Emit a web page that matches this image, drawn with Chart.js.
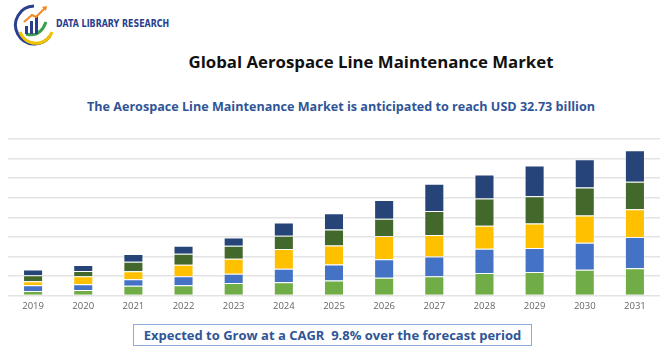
<!DOCTYPE html>
<html>
<head>
<meta charset="utf-8">
<script src="https://cdn.jsdelivr.net/npm/chart.js@4.4.1/dist/chart.umd.min.js"></script>
<style>
  body { margin: 0; background: #fff; font-family: "Open Sans", sans-serif; }
  #page { position: relative; width: 670px; height: 350px; overflow: hidden; }
  #logo { position: absolute; left: 12px; top: 2px; }
  #logoText { position: absolute; left: 56px; top: 17px; font-family: "DejaVu Sans Condensed", "Liberation Sans Narrow", sans-serif; font-weight: bold; font-size: 11px; color: #2b3f8f; transform: scaleX(0.8); transform-origin: left top; white-space: nowrap; }
  #title { position: absolute; left: 0; width: 742px; top: 50px; text-align: center; font-weight: bold; font-size: 16.8px; color: #111; }
  #subtitle { position: absolute; left: 0; width: 682px; top: 98px; text-align: center; font-weight: bold; font-size: 12.6px; color: #2f5597; }
  #chartBox { position: absolute; left: 0; top: 130px; width: 670px; height: 187px; }
  #cagr { position: absolute; left: 133px; top: 324px; width: 399px; height: 22px; border: 1px solid #8eaadb; box-sizing: border-box; text-align: center; font-weight: bold; font-size: 13px; line-height: 20px; color: #2f5597; }
</style>
</head>
<body>
<div id="page">
  <svg id="logo" width="44" height="46" viewBox="0 0 44 46">
    <path d="M22 4 A19 19 0 1 0 38 34" fill="none" stroke="#2b3f8f" stroke-width="3"/>
    <path d="M8 30 A17 17 0 0 0 40 30" fill="none" stroke="#f2c300" stroke-width="3"/>
    <path d="M14 32 Q28 36 34 20" fill="none" stroke="#3aa04a" stroke-width="3"/>
    <rect x="13" y="24" width="3" height="8" fill="#2b3f8f"/>
    <rect x="18" y="19" width="3" height="13" fill="#2b3f8f"/>
    <rect x="23" y="14" width="3" height="18" fill="#2b3f8f"/>
    <path d="M12 20 L20 13 L24 15 L33 6" fill="none" stroke="#f08a24" stroke-width="2"/>
    <path d="M30 5 L35 4 L34 9 Z" fill="#f08a24"/>
  </svg>
  <div id="logoText">DATA LIBRARY RESEARCH</div>
  <div id="title">Global Aerospace Line Maintenance Market</div>
  <div id="subtitle">The Aerospace Line Maintenance Market is anticipated to reach USD 32.73 billion</div>
  <div id="chartBox"><canvas id="chart"></canvas></div>
  <div id="cagr">Expected to Grow at a CAGR&nbsp; 9.8% over the forecast period</div>
</div>
<script>
var years = ["2019", "2020", "2021", "2022", "2023", "2024", "2025", "2026", "2027", "2028", "2029", "2030", "2031"];

// stacked segments, bottom to top
var seg1 = [0.24, 0.29, 0.50, 0.53, 0.65, 0.68, 0.77, 0.91, 0.99, 1.16, 1.20, 1.32, 1.40];
var seg2 = [0.29, 0.29, 0.34, 0.46, 0.46, 0.69, 0.82, 0.95, 1.01, 1.23, 1.23, 1.38, 1.59];
var seg3 = [0.20, 0.41, 0.41, 0.58, 0.77, 1.01, 0.97, 1.18, 1.09, 1.18, 1.25, 1.39, 1.42];
var seg4 = [0.31, 0.27, 0.48, 0.57, 0.67, 0.68, 0.82, 0.89, 1.23, 1.39, 1.40, 1.43, 1.40];
var seg5 = [0.29, 0.30, 0.39, 0.41, 0.42, 0.67, 0.83, 0.96, 1.39, 1.23, 1.57, 1.44, 1.61];

var colors = ["#70ad47", "#4472c4", "#ffc000", "#43682b", "#264478"];
var series = [seg1, seg2, seg3, seg4, seg5];

var datasets = [];
for (var i = 0; i < series.length; i++) {
	datasets.push({
		label : "Segment " + (i + 1),
		data : series[i],
		backgroundColor : colors[i],
		borderColor : "rgba(255,255,255,0.35)",
		borderWidth : 1,
		barPercentage : 0.8,
		categoryPercentage : 0.5
	});
}

new Chart(document.getElementById("chart"), {
	type : "bar",
	data : { labels : years, datasets : datasets },
	options : {
		responsive : true,
		maintainAspectRatio : false,
		animation : false,
		layout : { padding : { left : 8, right : 10, top : 9, bottom : 0 } },
		plugins : { legend : { display : false }, tooltip : { enabled : false } },
		scales : {
			x : {
				stacked : true,
				grid : { display : false, drawTicks : false },
				border : { display : false },
				ticks : { color : "#666", font : { family : "Open Sans", size : 9.5 }, padding : 5 }
			},
			y : {
				stacked : true,
				min : 0,
				max : 8,
				ticks : { display : false, stepSize : 1 },
				grid : { color : "#e4e4e4", lineWidth : 1.5, drawTicks : false },
				border : { display : false }
			}
		}
	}
});
</script>
</body>
</html>
